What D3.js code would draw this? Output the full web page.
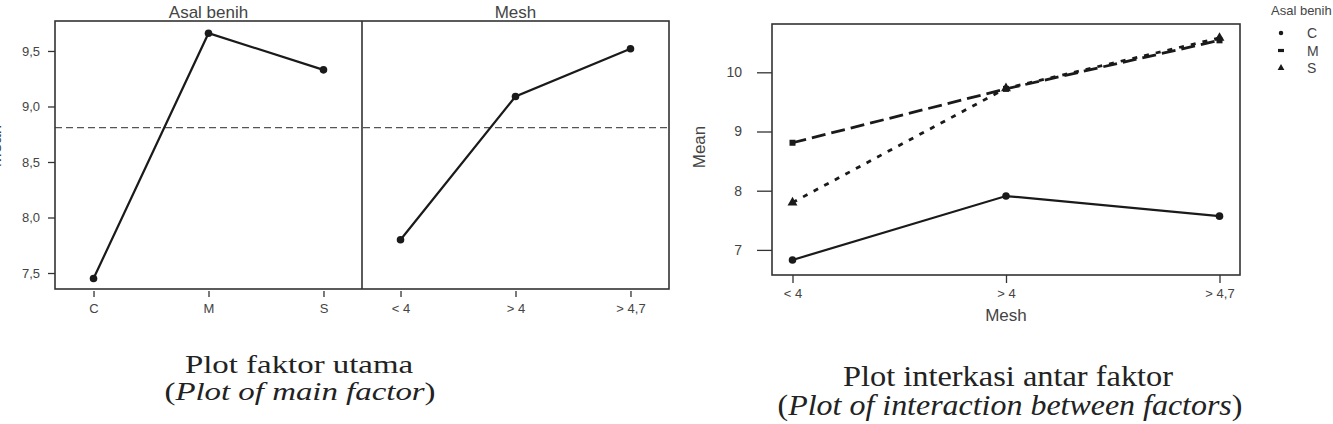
<!DOCTYPE html>
<meta charset="utf-8">
<script src="https://d3js.org/d3.v7.min.js"></script>
<style>
  body { margin: 0; background: #fff; }
  text { font-family: "Liberation Sans", Arial, sans-serif; }
  text.caption { font-family: "Liberation Serif", "Times New Roman", serif; fill: #222; }
</style>
<div id="my_dataviz"></div>

<script>
    // main effects data
    var originLevels = ["C", "M", "S"];
    var meshLevels = ["< 4", "> 4", "> 4,7"];
    var originMeans = [7.45, 9.66, 9.33];
    var meshMeans = [7.80, 9.09, 9.52];
    var grandMean = 8.81;
    var mainTicks = [7.5, 8.0, 8.5, 9.0, 9.5];

    // interaction data (one array per seed origin, along mesh levels)
    var interC = [6.83, 7.91, 7.57];
    var interM = [8.81, 9.72, 10.54];
    var interS = [7.80, 9.73, 10.58];
    var interTicks = [7, 8, 9, 10];

    var svg = d3.select("#my_dataviz")
      .append("svg")
        .attr("width", 1333)
        .attr("height", 424);

    var boxColor = "#333";
    var textColor = "#444";
    var lineColor = "#1a1a1a";
    var commaFmt = function(d) { return d.toFixed(1).replace(".", ","); };

    // ---------- left chart: main effects ----------
    var L = {left: 55, mid: 362, right: 669, top: 21, bottom: 289};

    var yL = d3.scaleLinear().domain([7.356, 9.77]).range([L.bottom, L.top]);
    var xOrigin = d3.scalePoint().domain(originLevels).range([L.left, L.mid]).padding(0.335);
    var xMesh = d3.scalePoint().domain(meshLevels).range([L.mid, L.right]).padding(0.335);

    var left = svg.append("g");

    // y axis
    left.append("g")
        .attr("transform", "translate(" + L.left + ",0)")
        .call(d3.axisLeft(yL).tickValues(mainTicks).tickSize(7).tickPadding(8).tickFormat(commaFmt))
        .call(g => g.select(".domain").remove())
        .call(g => g.selectAll("line").attr("stroke", boxColor).attr("stroke-width", 1.3))
        .call(g => g.selectAll("text").attr("fill", textColor).style("font-size", "13px").style("font-family", "Liberation Sans, Arial, sans-serif"));

    // x axes (one per panel)
    [xOrigin, xMesh].forEach(function(sc) {
      left.append("g")
          .attr("transform", "translate(0," + (L.bottom + 2) + ")")
          .call(d3.axisBottom(sc).tickSize(6).tickPadding(7))
          .call(g => g.select(".domain").remove())
          .call(g => g.selectAll("line").attr("stroke", boxColor).attr("stroke-width", 1.3))
          .call(g => g.selectAll("text").attr("fill", textColor).style("font-size", "13px").style("font-family", "Liberation Sans, Arial, sans-serif"));
    });

    // grand mean reference line
    left.append("line")
        .attr("x1", L.left).attr("x2", L.right)
        .attr("y1", yL(grandMean)).attr("y2", yL(grandMean))
        .attr("stroke", "#555").attr("stroke-width", 1.3)
        .attr("stroke-dasharray", "7,4");

    // frame + panel divider
    left.append("rect")
        .attr("x", L.left).attr("y", L.top)
        .attr("width", L.right - L.left).attr("height", L.bottom - L.top)
        .attr("fill", "none").attr("stroke", boxColor).attr("stroke-width", 1.6);
    left.append("line")
        .attr("x1", L.mid).attr("x2", L.mid).attr("y1", L.top).attr("y2", L.bottom)
        .attr("stroke", boxColor).attr("stroke-width", 1.6);

    // panel titles
    left.append("text").attr("x", (L.left + L.mid) / 2).attr("y", 18)
        .attr("text-anchor", "middle").attr("fill", textColor).style("font-size", "17px").text("Asal benih");
    left.append("text").attr("x", (L.mid + L.right) / 2).attr("y", 18)
        .attr("text-anchor", "middle").attr("fill", textColor).style("font-size", "17px").text("Mesh");

    // y label, mostly cut off at the page edge
    left.append("text")
        .attr("transform", "translate(1,146) rotate(-90)")
        .attr("text-anchor", "middle").attr("fill", textColor).style("font-size", "17px").text("Mean");

    // main effect lines
    var panels = [
      {levels: originLevels, means: originMeans, x: xOrigin},
      {levels: meshLevels, means: meshMeans, x: xMesh}
    ];
    panels.forEach(function(p) {
      var pts = p.levels.map((lv, i) => [p.x(lv), yL(p.means[i])]);
      left.append("path")
          .attr("d", d3.line()(pts))
          .attr("fill", "none").attr("stroke", lineColor).attr("stroke-width", 2.2);
      left.selectAll(null)
          .data(pts)
          .enter().append("circle")
            .attr("cx", d => d[0]).attr("cy", d => d[1]).attr("r", 3.8)
            .attr("fill", lineColor);
    });

    // ---------- right chart: interaction ----------
    var R = {left: 772, right: 1240, top: 24, bottom: 275};

    var yR = d3.scaleLinear().domain([6.576, 10.816]).range([R.bottom, R.top]);
    var xR = d3.scalePoint().domain(meshLevels).range([R.left, R.right]).padding(0.096);

    var right = svg.append("g");

    right.append("g")
        .attr("transform", "translate(" + R.left + ",0)")
        .call(d3.axisLeft(yR).tickValues(interTicks).tickSize(15).tickPadding(15).tickFormat(d3.format("d")))
        .call(g => g.select(".domain").remove())
        .call(g => g.selectAll("line").attr("stroke", boxColor).attr("stroke-width", 1.3))
        .call(g => g.selectAll("text").attr("fill", textColor).style("font-size", "14px").style("font-family", "Liberation Sans, Arial, sans-serif"));

    right.append("g")
        .attr("transform", "translate(0," + R.bottom + ")")
        .call(d3.axisBottom(xR).tickSize(8).tickPadding(6))
        .call(g => g.select(".domain").remove())
        .call(g => g.selectAll("line").attr("stroke", boxColor).attr("stroke-width", 1.3))
        .call(g => g.selectAll("text").attr("fill", textColor).style("font-size", "13px").style("font-family", "Liberation Sans, Arial, sans-serif"));

    right.append("rect")
        .attr("x", R.left).attr("y", R.top)
        .attr("width", R.right - R.left).attr("height", R.bottom - R.top)
        .attr("fill", "none").attr("stroke", boxColor).attr("stroke-width", 1.6);

    right.append("text")
        .attr("transform", "translate(705,147) rotate(-90)")
        .attr("text-anchor", "middle").attr("fill", textColor).style("font-size", "17px").text("Mean");
    right.append("text")
        .attr("x", (R.left + R.right) / 2).attr("y", 321)
        .attr("text-anchor", "middle").attr("fill", textColor).style("font-size", "17px").text("Mesh");

    var series = [
      {name: "C", values: interC, dash: null, symbol: d3.symbolCircle, size: 45},
      {name: "M", values: interM, dash: "14,6", symbol: d3.symbolSquare, size: 36},
      {name: "S", values: interS, dash: "5,7", symbol: d3.symbolTriangle, size: 42}
    ];

    series.forEach(function(s) {
      var pts = meshLevels.map((lv, i) => [xR(lv), yR(s.values[i])]);
      right.append("path")
          .attr("d", d3.line()(pts))
          .attr("fill", "none").attr("stroke", lineColor)
          .attr("stroke-width", s.dash ? 2.8 : 2.2)
          .attr("stroke-dasharray", s.dash);
      right.selectAll(null)
          .data(pts)
          .enter().append("path")
            .attr("transform", d => "translate(" + d[0] + "," + d[1] + ")")
            .attr("d", d3.symbol().type(s.symbol).size(s.size))
            .attr("fill", lineColor);
    });

    // legend
    var legend = svg.append("g").attr("transform", "translate(1271,0)");
    legend.append("text").attr("x", 0).attr("y", 15)
        .attr("fill", textColor).style("font-size", "13px").text("Asal benih");
    var legendSymbols = [
      d3.symbol().type(d3.symbolCircle).size(16)(),
      "M-3,-1.6h6v3.2h-6z",
      d3.symbol().type(d3.symbolTriangle).size(20)()
    ];
    series.forEach(function(s, i) {
      var yy = 33 + i * 17.5;
      legend.append("path")
          .attr("transform", "translate(10," + yy + ")")
          .attr("d", legendSymbols[i])
          .attr("fill", lineColor);
      legend.append("text").attr("x", 36).attr("y", yy + 5)
          .attr("fill", textColor).style("font-size", "14px").text(s.name);
    });

    // captions (the source figure is stretched sideways, so scale x)
    function caption(cx, cy, size, sx, plain, italic) {
      var t = svg.append("g")
          .attr("transform", "translate(" + cx + "," + cy + ") scale(" + sx + ",1)")
        .append("text")
          .attr("class", "caption")
          .attr("text-anchor", "middle")
          .style("font-size", size + "px");
      if (italic) {
        t.append("tspan").text("(");
        t.append("tspan").style("font-style", "italic").text(italic);
        t.append("tspan").text(")");
      } else {
        t.text(plain);
      }
    }
    caption(299, 373, 26, 1.265, "Plot faktor utama");
    caption(300, 400, 26, 1.265, null, "Plot of main factor");
    caption(1008, 386, 30, 1.08, "Plot interkasi antar faktor");
    caption(1010, 415, 30, 1.065, null, "Plot of interaction between factors");
</script>
